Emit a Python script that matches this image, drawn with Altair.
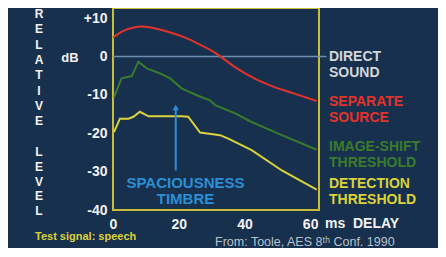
import altair as alt
import pandas as pd

# ---- data ----
sep_ms = [0, 3, 6, 9, 13, 17, 22, 26, 31, 37, 43, 49, 55, 62]
sep_db = [4.9, 6.6, 7.5, 7.8, 7.3, 6.4, 4.9, 3.3, 1.0, -2.7, -5.7, -7.9, -9.6, -11.6]

img_ms = [0.3, 2.6, 5.7, 7.7, 10.3, 14.3, 17.4, 20.9, 25.5, 29.5, 31.1, 37.2, 42.0, 51.4, 62]
img_db = [-10.6, -5.7, -5.1, -1.4, -3.1, -4.4, -5.7, -8.3, -10.1, -11.4, -12.7, -14.8, -17.0, -20.5, -24.3]

det_ms = [0.3, 2.1, 4.7, 6.2, 8.2, 10.8, 20.9, 22.9, 26.5, 32.6, 35.1, 42.2, 51.4, 62]
det_db = [-19.7, -16.2, -16.2, -15.7, -14.4, -15.6, -15.6, -15.7, -19.8, -20.5, -21.4, -24.4, -29.7, -34.7]

direct_ms = [0, 65]
direct_db = [0, 0]

arrow_ms = [19.1]
arrow_db_low = [-29.7]
arrow_db_high = [-13.3]

x_ticks = [0, 10, 20, 30, 40, 50, 60]
y_ticks = [-40, -30, -20, -10, 0, 10]

FONT = "Liberation Sans"
BG = "#17304e"
FRAME = "#c9bd3a"
RED = "#e2332b"
GREEN = "#3b7b2c"
YELLOW = "#dcd23c"
BLUE = "#2b8fd6"
WHITE = "#f2f2f2"

xs = alt.Scale(domain=[0, 62.7], nice=False, zero=False)
ys = alt.Scale(domain=[-40, 12.64], nice=False, zero=False)

xaxis = alt.Axis(values=x_ticks, ticks=False, domain=False, grid=False, title=None,
                 labelColor=WHITE, labelFont=FONT, labelFontWeight="bold", labelFontSize=14,
                 labelPadding=7, labelFlush=False)
yaxis = alt.Axis(values=y_ticks, ticks=False, domain=False, grid=False, title=None,
                 labelColor=WHITE, labelFont=FONT, labelFontWeight="bold", labelFontSize=14,
                 labelPadding=6, labelExpr="datum.value > 0 ? '+' + datum.value : '' + datum.value")

def line_df(ms, db):
    return pd.DataFrame({"ms": ms, "db": db})

direct = alt.Chart(line_df(direct_ms, direct_db)).mark_line(
    color="#6e8fb2", strokeWidth=1.3, clip=False
).encode(x=alt.X("ms:Q", scale=xs, axis=xaxis), y=alt.Y("db:Q", scale=ys, axis=yaxis))

sep = alt.Chart(line_df(sep_ms, sep_db)).mark_line(
    color=RED, strokeWidth=2, interpolate="monotone"
).encode(x=alt.X("ms:Q", scale=xs), y=alt.Y("db:Q", scale=ys))

img = alt.Chart(line_df(img_ms, img_db)).mark_line(
    color=GREEN, strokeWidth=2
).encode(x=alt.X("ms:Q", scale=xs), y=alt.Y("db:Q", scale=ys))

det = alt.Chart(line_df(det_ms, det_db)).mark_line(
    color=YELLOW, strokeWidth=2
).encode(x=alt.X("ms:Q", scale=xs), y=alt.Y("db:Q", scale=ys))

arrow_df = pd.DataFrame({"ms": arrow_ms, "lo": arrow_db_low, "hi": arrow_db_high})
arrow = alt.Chart(arrow_df).mark_rule(color=BLUE, strokeWidth=2).encode(
    x=alt.X("ms:Q", scale=xs), y=alt.Y("lo:Q", scale=ys), y2="hi:Q")
head = alt.Chart(arrow_df).mark_point(shape="triangle-up", filled=True, color=BLUE,
                                      size=40, opacity=1).encode(
    x=alt.X("ms:Q", scale=xs), y=alt.Y("hi:Q", scale=ys))

def txt(text, x, y, color=WHITE, size=13, weight="bold", align="left", baseline="middle",
        lineHeight=None):
    kw = dict(text=text, color=color, fontSize=size, font=FONT, fontWeight=weight,
              align=align, baseline=baseline)
    if lineHeight is not None:
        kw["lineBreak"] = "\n"
        kw["lineHeight"] = lineHeight
    return alt.Chart(pd.DataFrame({"a": [0]})).mark_text(**kw).encode(
        x=alt.value(x), y=alt.value(y))

texts = [
    txt("DIRECT", 216, 49, color="#d4d6da", size=14),
    txt("SOUND", 216, 65, color="#d4d6da", size=14),
    txt("SEPARATE", 216, 94, color=RED, size=14),
    txt("SOURCE", 216, 110, color=RED, size=14),
    txt("IMAGE-SHIFT", 216, 139, color=GREEN, size=14),
    txt("THRESHOLD", 216, 155, color=GREEN, size=14),
    txt("DETECTION", 216, 176, color=YELLOW, size=14),
    txt("THRESHOLD", 216, 192, color=YELLOW, size=14),
    txt("SPACIOUSNESS", 72.5, 175, color=BLUE, size=15, align="center"),
    txt("TIMBRE", 72.5, 191, color=BLUE, size=15, align="center"),
    txt("ms", 212, 216, size=14),
    txt("DELAY", 240, 216, size=14),
    txt("dB", -43, 50, size=13, align="center"),
    txt("R\nE\nL\nA\nT\nI\nV\nE", -74, 1, size=12, align="center", baseline="top",
        lineHeight=15.3),
    txt("L\nE\nV\nE\nL", -74, 139, size=12, align="center", baseline="top",
        lineHeight=14.8),
    txt("Test signal: speech", -78, 229, color=YELLOW, size=11),
    txt("From: Toole, AES 8\u1d57\u02b0 Conf. 1990", 102, 234, color="#b9c2cc",
        size=12.5, weight="normal"),
]

chart = alt.layer(direct, sep, img, det, arrow, head, *texts).properties(
    width=206, height=202,
    background=BG,
    padding={"left": 105, "top": 0, "right": 119, "bottom": 38},
    autosize=alt.AutoSizeParams(type="none"),
).configure_view(stroke=FRAME, strokeWidth=2)

chart.save("out.html", embed_options={"renderer": "svg", "actions": False})
